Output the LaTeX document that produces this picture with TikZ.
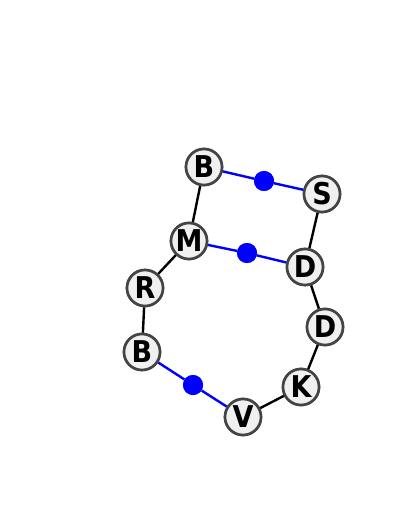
\documentclass[tikz,border=0pt]{standalone}
\usepackage{fontspec}
\setsansfont{DejaVu Sans Condensed}
\usepackage{xcolor}
\definecolor{RingFill}{HTML}{F0F0F0}
\definecolor{RingEdge}{HTML}{444444}
\definecolor{LinkBlue}{HTML}{0000FF}
\begin{document}
\begin{tikzpicture}[x=1pt, y=-1pt,
    every node/.style={font=\sffamily\bfseries\fontsize{30}{30}\selectfont},
    res/.style={circle, draw=RingEdge, fill=RingFill, line width=2.6pt, minimum size=36pt, inner sep=0pt},
    link/.style={draw=LinkBlue, line width=2.4pt},
    bond/.style={draw=black, line width=2.4pt},
    knot/.style={circle, fill=LinkBlue, minimum size=20pt, inner sep=0pt}]
      \useasboundingbox (0,0) rectangle (400,518);
      \node[res] (b1) at (204,167) {B};
      \node[res] (s1) at (322,194) {S};
      \node[res] (m1) at (189,241) {M};
      \node[res] (d1) at (305,267) {D};
      \node[res] (r1) at (145,288) {R};
      \node[res] (d2) at (325,327) {D};
      \node[res] (b2) at (142,352) {B};
      \node[res] (k1) at (301,387) {K};
      \node[res] (v1) at (243,417) {V};
      \node[knot] (j1) at (264,181) {};
      \node[knot] (j2) at (247,253) {};
      \node[knot] (j3) at (193,385) {};
      \path[bond] (b1) -- (m1) (s1) -- (d1) (m1) -- (r1) (r1) -- (b2)
        (d1) -- (d2) (d2) -- (k1) (k1) -- (v1);
      \path[link] (b1) -- (j1) -- (s1) (m1) -- (j2) -- (d1) (b2) -- (j3) -- (v1);
      % redraw on top so the lines end at the rims
      \foreach \n/\t in {b1/B,s1/S,m1/M,d1/D,r1/R,d2/D,b2/B,k1/K,v1/V}
        \node[res] at (\n) {\t};
      \foreach \n in {j1,j2,j3}
        \node[knot] at (\n) {};
    \end{tikzpicture}
\end{document}
